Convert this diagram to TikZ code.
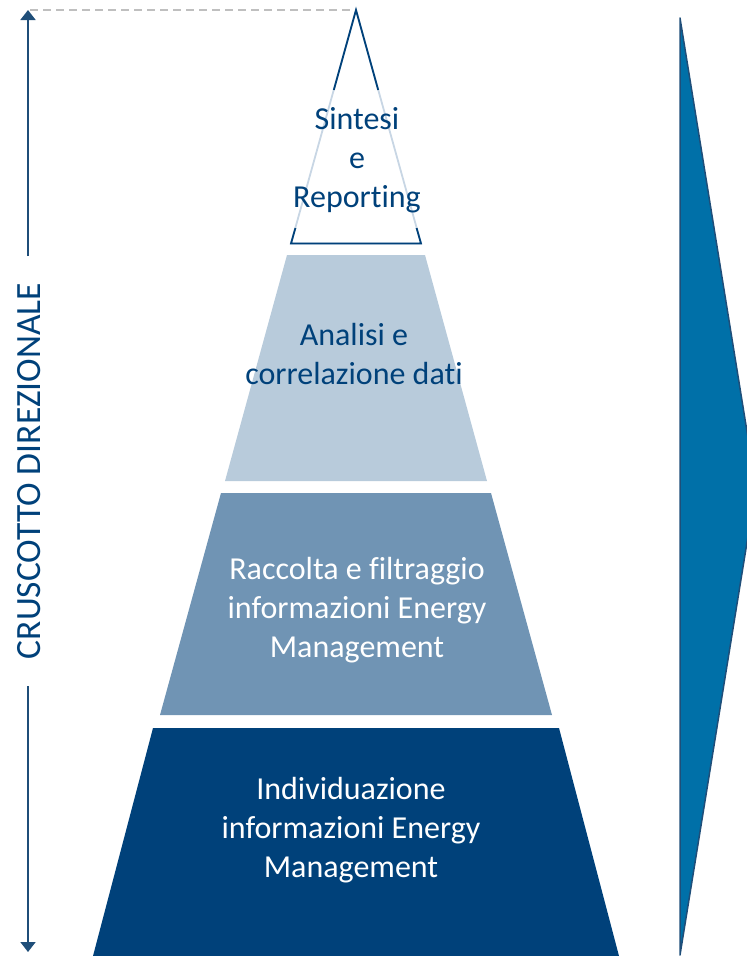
\documentclass[tikz,border=0pt]{standalone}
\usepackage{fontspec}
\setmainfont[Ligatures=NoCommon]{Carlito}
\usetikzlibrary{arrows.meta}
\definecolor{dblue}{RGB}{0,65,122}
\definecolor{mblue}{RGB}{112,148,180}
\definecolor{lblue}{RGB}{184,203,219}
\definecolor{pale}{RGB}{200,214,228}
\definecolor{arrowblue}{RGB}{0,112,168}
\definecolor{arrowedge}{RGB}{31,78,121}
\begin{document}
\begin{tikzpicture}[x=1pt,y=-1pt,
  lvltext/.style={align=center,font=\fontsize{32}{39}\selectfont,inner sep=0pt},
  axis/.style={draw=arrowedge,line width=1.8pt}]
\useasboundingbox (0,0) rectangle (747,956);
% right arrow
\fill[arrowblue,draw=arrowedge,line width=1.5pt,line join=round] (680,18) -- (756,487) -- (680,955) -- cycle;
% dashed top line
\draw[gray!50,line width=1.2pt,dash pattern=on 8pt off 5pt] (30,10) -- (356,10);
% pyramid layers
\fill[dblue] (153,728) -- (559,728) -- (619,956) -- (93,956) -- cycle;
\fill[mblue] (160,715) -- (221,493) -- (491,493) -- (552,715) -- cycle;
\fill[lblue] (225,481) -- (287,255) -- (425,255) -- (487,481) -- cycle;
% top triangle
\draw[pale,line width=1.8pt] (356,10) -- (291,243.5) -- (421,243.5) -- cycle;
\draw[dblue,line width=1.8pt,line join=miter] (333.8,90) -- (356,10) -- (378.2,90);
\draw[dblue,line width=1.8pt,line join=miter] (295.4,228) -- (291,243.5) -- (421,243.5) -- (416.6,228);
% texts
\node[lvltext,text=dblue] (t1) at (357,160) {Sintesi\\e\\Reporting};
\node[lvltext,text=dblue] (t2) at (354,354) {Analisi e\\correlazione dati};
\node[lvltext,text=white] (t3) at (357,610) {Raccolta e filtraggio\\informazioni Energy\\Management};
\node[lvltext,text=white] (t4) at (351,830) {Individuazione\\informazioni Energy\\Management};
% left axis
\node[rotate=90,text=dblue,font=\fontsize{35.5}{40}\selectfont,inner sep=0pt] (cd) at (29,471) {CRUSCOTTO DIREZIONALE};
\coordinate (top) at (28,10);
\coordinate (bot) at (28,952);
\coordinate (gapT) at (28,256);
\coordinate (gapB) at (28,686);
\draw[axis,-{Triangle[width=15pt,length=10pt]}] (gapT) -- (top);
\draw[axis,-{Triangle[width=15pt,length=10pt]}] (gapB) -- (bot);
\end{tikzpicture}
\end{document}
